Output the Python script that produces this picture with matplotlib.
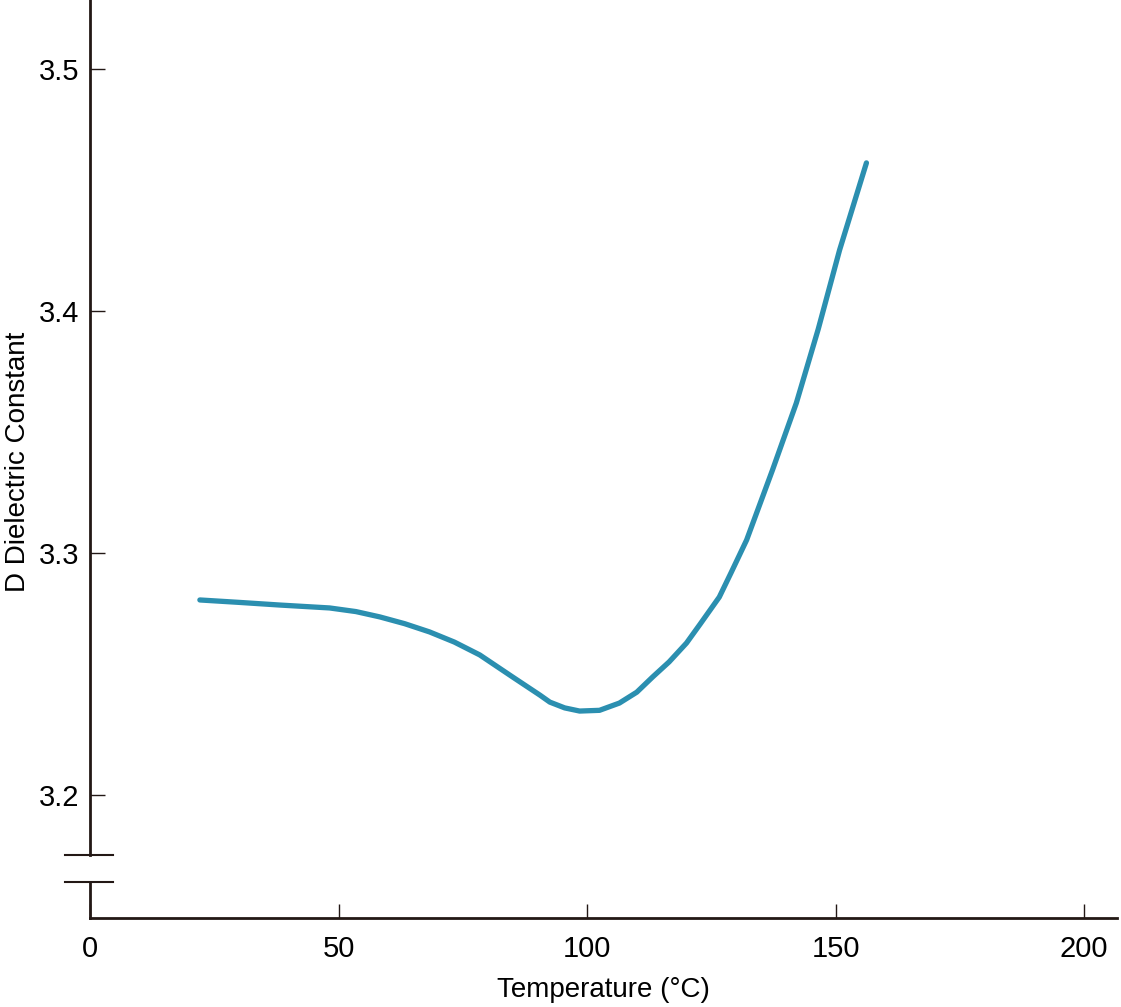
import matplotlib.pyplot as plt

plt.rcParams['font.family'] = ['Liberation Sans', 'DejaVu Sans']

# Curve
temp = [22.1, 30.0, 38.2, 48.2, 53.5, 58.3, 63.3, 68.3, 73.3, 78.4, 85.0,
        90.5, 92.5, 95.5, 98.5, 102.5, 106.5, 110.0, 113.2, 116.5, 120.0,
        122.7, 126.6, 129.0, 132.1, 137.3, 142.1, 146.5, 150.8, 156.2]
dk = [3.2806, 3.2796, 3.2785, 3.2773, 3.2758, 3.2736, 3.2708, 3.2674, 3.2632,
      3.2579, 3.2488, 3.2413, 3.2384, 3.2360, 3.2347, 3.2350, 3.2380, 3.2425,
      3.2488, 3.2550, 3.2628, 3.2705, 3.2818, 3.2920, 3.3054, 3.3343, 3.3620,
      3.3925, 3.4252, 3.4612]

xticks = [0, 50, 100, 150, 200]
yticks = [3.2, 3.3, 3.4, 3.5]

axis_col = '#231815'

fig = plt.figure(figsize=(11.21, 10.07), dpi=100)
ax = fig.add_axes([0.0803, 0.0884, 0.9161, 0.9116])

ax.plot(temp, dk, color='#2b8fb0', lw=3.8, solid_capstyle='round',
        solid_joinstyle='round')

ax.set_xlim(0, 206.6)
ax.set_ylim(3.1492, 3.5285)

ax.set_xticks(xticks)
ax.set_xticklabels([str(t) for t in xticks])
ax.set_yticks(yticks)
ax.set_yticklabels([f'{t:.1f}' for t in yticks])

for s in ['top', 'right', 'left']:
    ax.spines[s].set_visible(False)
ax.spines['bottom'].set_color(axis_col)
ax.spines['bottom'].set_linewidth(2)

# left axis with a break
tr = ax.get_yaxis_transform()
ax.plot([0, 0], [3.1751, 3.5285], color=axis_col, lw=2, transform=tr, clip_on=False)
ax.plot([0, 0], [3.1492, 3.1639], color=axis_col, lw=2, transform=tr, clip_on=False)
for yb in [3.1751, 3.1639]:
    ax.plot([-0.024, 0.022], [yb, yb], color=axis_col, lw=1.5, transform=tr, clip_on=False)

ax.tick_params(axis='y', direction='in', length=11, width=1, color=axis_col,
               labelsize=21, pad=8, labelcolor='black')
ax.tick_params(axis='x', direction='in', length=10, width=1, color=axis_col,
               labelsize=21, pad=12, labelcolor='black')

ax.set_xlabel('Temperature (°C)', fontsize=20, labelpad=10)
ax.set_ylabel('')
fig.text(18 / 1121, 1 - 462 / 1007, 'D Dielectric Constant', rotation=90,
         ha='center', va='center', fontsize=20)

fig.savefig('out.png', dpi=100)
